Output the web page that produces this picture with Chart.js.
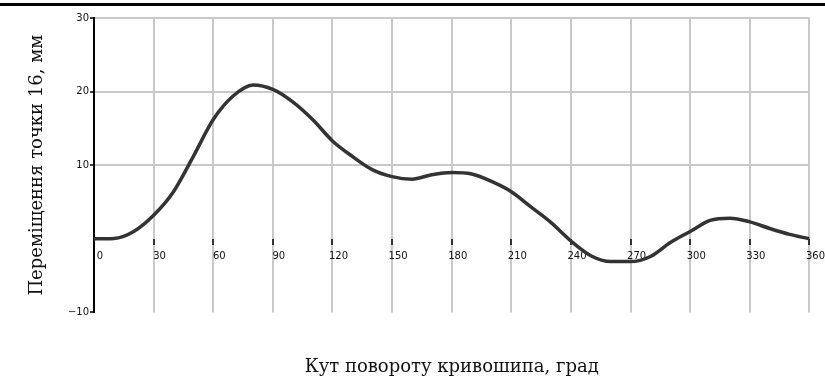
<!DOCTYPE html>
<html>
<head>
<meta charset="utf-8">
<script src="https://cdn.jsdelivr.net/npm/chart.js@4/dist/chart.umd.min.js"></script>
<style>
  html, body { margin: 0; padding: 0; background: #fff; }
  #wrap { position: relative; width: 825px; height: 381px; }
  #topRule { position: absolute; left: 0; top: 3px; width: 825px; height: 3px; background: #000; }
</style>
</head>
<body>
<div id="wrap">
  <canvas id="chart" width="825" height="381"></canvas>
  <div id="topRule"></div>
</div>
<script>
// crank angle, degrees
const angles = [0, 10, 20, 30, 40, 50, 60, 70, 80, 90, 100, 110, 120, 130, 140, 150, 160, 170, 180,
  190, 200, 210, 220, 230, 240, 250, 260, 270, 280, 290, 300, 310, 320, 330, 340, 350, 360];
// displacement of point 16, mm
const displacement = [0, 0.05, 1.0, 3.2, 6.4, 11.2, 16.2, 19.4, 20.9, 20.3, 18.6, 16.2, 13.3, 11.2,
  9.4, 8.45, 8.1, 8.7, 9.0, 8.8, 7.8, 6.4, 4.3, 2.2, -0.3, -2.3, -3.1, -3.1, -2.4, -0.5, 1.0, 2.5,
  2.8, 2.3, 1.4, 0.6, 0];
const yTicks = [30, 20, 10, -10];

const xTitle = "Кут повороту кривошипа, град";
const yTitle = "Переміщення точки 16, мм";

const gridGrey = "#c9c9c9";
const titleFont = { family: "DejaVu Serif", size: 18, weight: "normal" };

new Chart(document.getElementById("chart"), {
  type: "line",
  data: {
    datasets: [{
      data: angles.map((a, i) => ({ x: a, y: displacement[i] })),
      borderColor: "#333",
      borderWidth: 3.5,
      pointRadius: 0,
      cubicInterpolationMode: "monotone",
      fill: false
    }]
  },
  options: {
    responsive: false,
    animation: false,
    layout: { padding: { top: 18, right: 13, left: 0, bottom: 0 } },
    plugins: {
      legend: { display: false },
      tooltip: { enabled: false },
      // x axis title sits under the plot, centred on the chart area
      title: {
        display: true,
        text: xTitle,
        position: "bottom",
        fullSize: false,
        color: "#111",
        font: titleFont,
        padding: { top: 44, bottom: 3 }
      }
    },
    scales: {
      x: {
        type: "linear",
        position: { y: 0 },
        min: 0,
        max: 360,
        afterFit: (s) => { s.height = 0; },
        ticks: {
          stepSize: 30,
          labelOffset: 6,
          padding: 6,
          maxRotation: 0,
          color: "#111",
          font: { family: "DejaVu Sans", size: 10 }
        },
        grid: {
          color: gridGrey,
          lineWidth: 2,
          tickColor: "#000",
          tickLength: 6,
          tickWidth: 1.5
        },
        border: { display: false }
      },
      y: {
        min: -10,
        max: 30,
        afterFit: (s) => { s.width = 94; },
        afterBuildTicks: (s) => { s.ticks = [-10, 0, 10, 20, 30].map((v) => ({ value: v })); },
        ticks: {
          padding: 1,
          color: "#111",
          font: { family: "DejaVu Sans", size: 10 },
          callback: (v) => (yTicks.includes(v) ? (v < 0 ? "−10" : String(v)) : "")
        },
        grid: {
          color: (c) => ([30, 20, 10].includes(c.tick && c.tick.value) ? gridGrey : "rgba(0,0,0,0)"),
          lineWidth: 2,
          tickColor: (c) => (c.tick && c.tick.value === 0 ? "rgba(0,0,0,0)" : "#000"),
          tickLength: 4,
          tickWidth: 1.5
        },
        border: { display: true, color: "#000", width: 2 },
        title: {
          display: true,
          text: yTitle,
          color: "#111",
          font: titleFont,
          padding: { top: 27 }
        }
      }
    }
  }
});
</script>
</body>
</html>
